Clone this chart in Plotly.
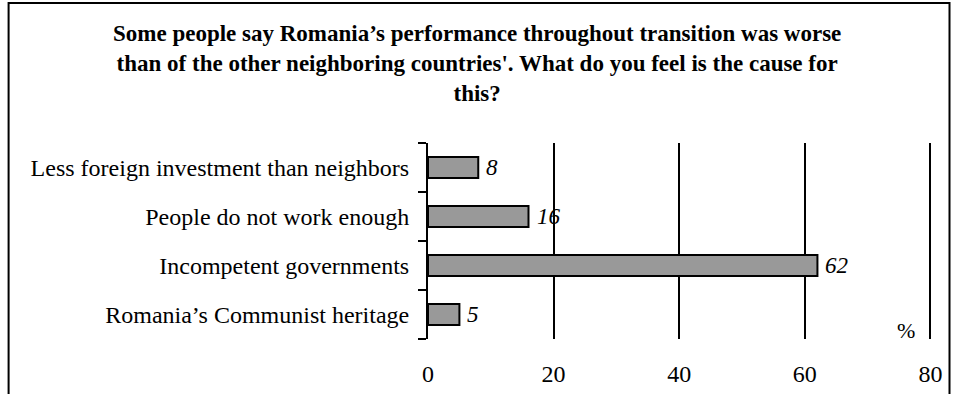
import plotly.graph_objects as go

# Survey answers, bottom-to-top order as drawn on the category axis
causes = [
    "Romania’s Communist heritage",
    "Incompetent governments",
    "People do not work enough",
    "Less foreign investment than neighbors",
]
shares = [5, 62, 16, 8]
x_ticks = [0, 20, 40, 60, 80]

title_lines = [
    "Some people say Romania’s performance throughout transition was worse",
    "than of the other neighboring countries'. What do you feel is the cause for",
    "this?",
]

FONT = "Liberation Serif, Times New Roman, serif"
W, H = 954, 394
X_MAX = 80.4                      # a hair past 80 so the last gridline is drawn
L, T, B = 428, 143, 55
PW = 502 * X_MAX / 80             # 80 lands at x=930
R = W - L - PW
PH = H - T - B


def px_to_paper_x(px):
    return (px - L) / PW


def px_to_paper_y(py):
    return (H - B - py) / PH


fig = go.Figure()
fig.add_trace(
    go.Bar(
        y=causes,
        x=shares,
        orientation="h",
        width=0.43,
        marker=dict(color="#999999", line=dict(color="black", width=2)),
        hoverinfo="skip",
    )
)

# Italic value labels just past each bar end
annotations = []
for cat, val in zip(causes, shares):
    annotations.append(
        dict(
            x=val, y=cat, xref="x", yref="y",
            text=str(val), showarrow=False,
            xanchor="left", yanchor="middle", xshift=6,
            font=dict(family=FONT, size=23, color="black", style="italic"),
        )
    )

# Percent unit marker next to the last gridline
annotations.append(
    dict(
        x=px_to_paper_x(906), y=px_to_paper_y(330), xref="paper", yref="paper",
        text="%", showarrow=False, xanchor="center", yanchor="middle",
        font=dict(family=FONT, size=22, color="black"),
    )
)

# Three-line bold title centered over the whole frame
annotations.append(
    dict(
        x=px_to_paper_x(477), y=px_to_paper_y(19), xref="paper", yref="paper",
        text="<b>" + "<br>".join(title_lines) + "</b>", showarrow=False,
        xanchor="center", yanchor="top", align="center",
        font=dict(family=FONT, size=23, color="black"),
    )
)

fig.update_layout(
    width=W, height=H,
    margin=dict(l=L, r=R, t=T, b=B, pad=0, autoexpand=False),
    paper_bgcolor="white", plot_bgcolor="white",
    showlegend=False,
    annotations=annotations,
    font=dict(family=FONT, size=24, color="black"),
    xaxis=dict(
        range=[0, X_MAX], tickvals=x_ticks, ticktext=[str(v) for v in x_ticks],
        showgrid=True, gridcolor="black", gridwidth=2,
        zeroline=False, showline=False, ticks="",
        ticklabelstandoff=18, tickfont=dict(family=FONT, size=24),
        automargin=False, fixedrange=True,
    ),
    yaxis=dict(
        categoryorder="array", categoryarray=causes,
        showline=True, linecolor="black", linewidth=2,
        ticks="outside", ticklen=8, tickwidth=2, tickcolor="black",
        tickson="boundaries", showgrid=False, zeroline=False,
        ticklabelstandoff=12, tickfont=dict(family=FONT, size=24),
        automargin=False, fixedrange=True,
    ),
    shapes=[
        # Outer frame; its bottom edge falls below the visible page
        dict(
            type="rect", xref="paper", yref="paper",
            x0=px_to_paper_x(9), x1=px_to_paper_x(949),
            y0=px_to_paper_y(420), y1=px_to_paper_y(3),
            line=dict(color="black", width=2), fillcolor="rgba(0,0,0,0)",
            layer="below",
        )
    ],
)

fig.write_html("out.html")
